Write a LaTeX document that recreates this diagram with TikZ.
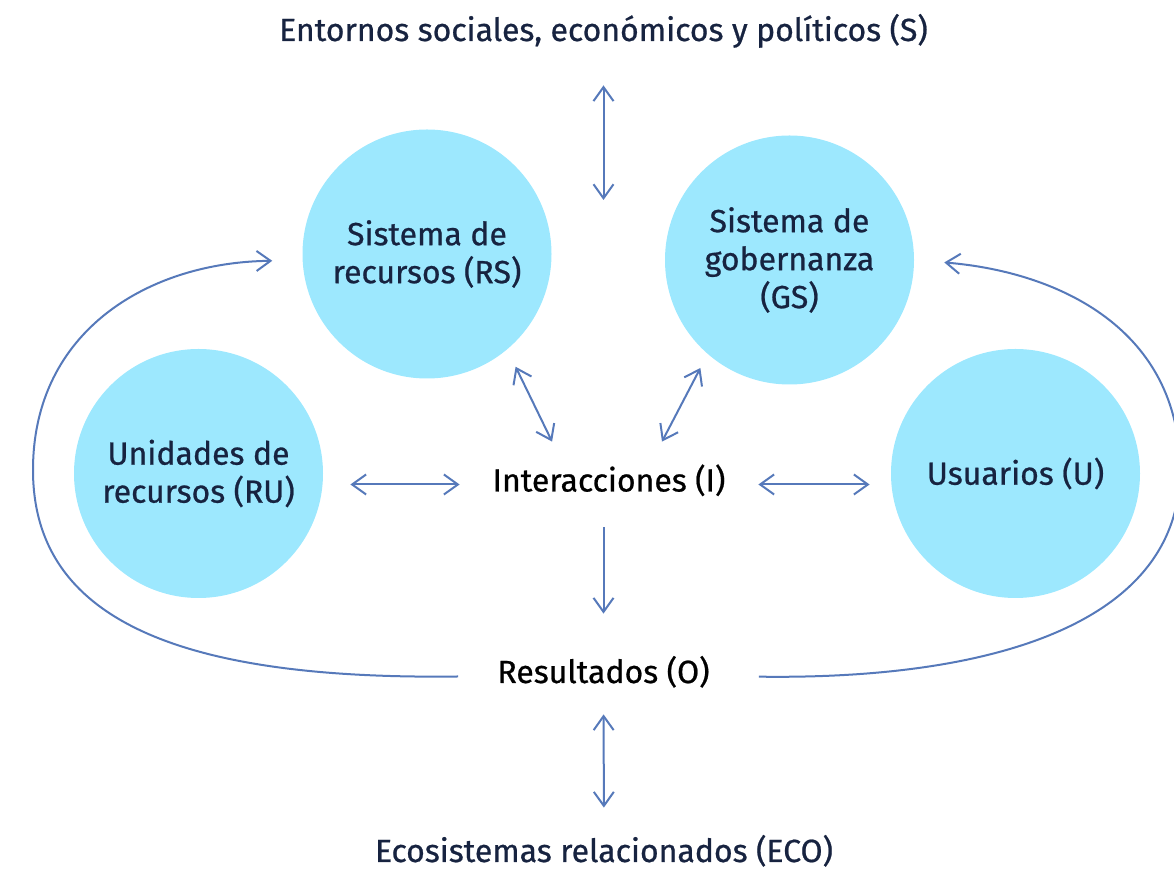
\documentclass[tikz,border=0pt]{standalone}
\usepackage{fontspec}
\setmainfont{Fira Sans}[FakeBold=0.7]
\usepackage{xcolor}
\usetikzlibrary{calc,positioning,arrows.meta}
\definecolor{color_circle}{HTML}{9de8fe}
\definecolor{color_arrow}{HTML}{5679ba}
\definecolor{color_navy}{HTML}{172340}

\begin{document}
\begin{tikzpicture}[x=0.5pt,y=-0.5pt,
		every node/.style={font=\fontsize{16pt}{19pt}\selectfont},
		system/.style={circle,fill=color_circle,minimum size=124.5pt,inner sep=0,align=center,text=color_navy},
		label_text/.style={anchor=base,inner sep=0,text height=10pt,text depth=3pt},
		link/.style={color_arrow,line width=1pt},
		both_ways/.style={link,{Straight Barb[length=7pt,width=10pt]}-{Straight Barb[length=7pt,width=10pt]}},
		one_way/.style={link,-{Straight Barb[length=7pt,width=10pt]}}]
	\useasboundingbox (0, 0) rectangle (1174, 870);
	% Systems
	\node[system] (RS) at (427, 254) {Sistema de\\recursos (RS)};
	\node[system] (GS) at (789.5, 260) {Sistema de\\gobernanza\\(GS)};
	\node[system] (RU) at (198.5, 473.5) {Unidades de\\recursos (RU)};
	\node[system] (U) at (1015.5, 473.5) {Usuarios (U)};

	% Labels
	\node[label_text,text=color_navy] (S) at (603.5, 41) {Entornos sociales, económicos y políticos (S)};
	\node[rectangle,inner sep=0,minimum width=149pt,minimum height=42.5pt,text height=10pt,text depth=3pt] (I) at (609, 484.5) {Interacciones (I)};
	\node[label_text] (O) at (603.5, 683) {Resultados (O)};
	\node[label_text,text=color_navy] (ECO) at (604, 862) {Ecosistemas relacionados (ECO)};
	\coordinate (core) at (603.5, 200);

	% Straight links
	\draw[both_ways,shorten <=19pt] (S.south) -- (core);
	\draw[both_ways,shorten <=9.5pt] (RS.-50.4) -- (I.143.8);
	\draw[both_ways,shorten <=7.75pt] (GS.-131.6) -- (I.39.3);
	\draw[both_ways,shorten <=13.5pt] (RU.east |- I.west) -- (I.west);
	\draw[both_ways,shorten >=10.5pt] (I.east) -- (U.west |- I.east);
	\draw[one_way,shorten >=24.5pt] (I.south -| O) -- (O.north);
	\draw[both_ways,shorten <=12.5pt,shorten >=17pt] (O.south) -- (ECO.north);

	% Feedback loops
	\draw[one_way,shorten <=19.5pt,shorten >=15pt]
		(O.west) .. controls (180, 680) and (33, 620) .. (33, 470)
		.. controls (33, 330) and (150, 262) .. (RS.183);
	\draw[one_way,shorten <=24.5pt,shorten >=15pt]
		(O.east) .. controls (1000, 680) and (1180, 620) .. (1180, 470)
		.. controls (1180, 330) and (1060, 272) .. (GS.east);
\end{tikzpicture}
\end{document}
